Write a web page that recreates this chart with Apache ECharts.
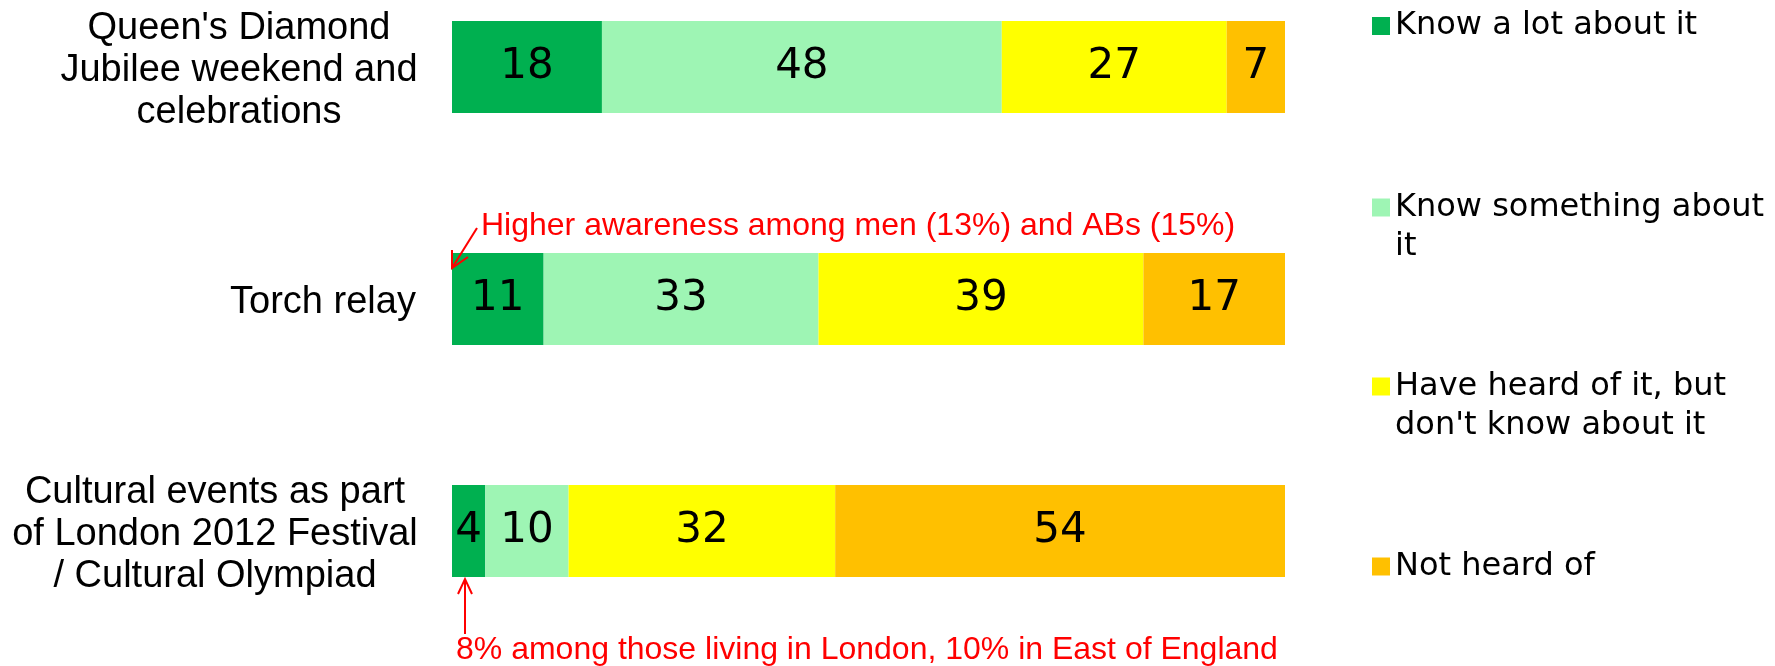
<!DOCTYPE html>
<html>
<head>
<meta charset="utf-8">
<title>Awareness of events</title>
<script src="https://cdn.jsdelivr.net/npm/echarts@6/dist/echarts.min.js"></script>
<style>
  html, body { margin: 0; padding: 0; background: #fff; }
  #chart { width: 1775px; height: 666px; }
</style>
</head>
<body>
<div id="chart"></div>
<script>
const categories = [
  "Queen's Diamond\nJubilee weekend and\ncelebrations",
  'Torch relay',
  'Cultural events as part\nof London 2012 Festival\n/ Cultural Olympiad'
]
const seriesNames = ['Know a lot about it', 'Know something about it', "Have heard of it, but don't know about it", 'Not heard of']
const legendLabels = ['Know a lot about it', 'Know something about\nit', "Have heard of it, but\ndon't know about it", 'Not heard of']

const knowLot = [18, 11, 4]
const knowSome = [48, 33, 10]
const heardOnly = [27, 39, 32]
const notHeard = [7, 17, 54]

const colors = ['#00B050', '#9EF5B4', '#FFFF00', '#FFC000']
const values = [knowLot, knowSome, heardOnly, notHeard]

// widest line of each category label, so the lines can be centred
const labelWidths = [358, 190, 406]

const chart = echarts.init(document.getElementById('chart'))

// two-line legend entries get an empty first line so the icon sits on the first text line
const legendTops = [6.5, 149, 328, 547]
const legends = seriesNames.map((name, i) => {
  const twoLines = legendLabels[i].indexOf('\n') >= 0
  return {
    data: [name],
    orient: 'vertical',
    left: 1372,
    top: legendTops[i],
    padding: 0,
    icon: 'rect',
    itemWidth: 18,
    itemHeight: 18,
    itemGap: 0,
    selectedMode: false,
    formatter: () => (twoLines ? '\n' : '') + legendLabels[i],
    textStyle: {
      fontFamily: 'DejaVu Sans',
      fontSize: 32,
      lineHeight: 39,
      color: '#000'
    }
  }
})

const red = '#FF0000'

const option = {
  animation: false,
  legend: legends,
  grid: {
    left: 452,
    right: 490,
    top: -49,
    height: 696,
    outerBoundsMode: 'none',
    containLabel: false
  },
  xAxis: {
    type: 'value',
    min: 0,
    max: 100,
    show: false
  },
  yAxis: {
    type: 'category',
    inverse: true,
    data: categories,
    axisLine: { show: false },
    axisTick: { show: false },
    axisLabel: {
      margin: 34,
      align: 'right',
      padding: [8, 0, 0, 0],
      formatter: (value, idx) => value.split('\n').map((s) => `{c${idx}|${s}}`).join('\n'),
      rich: Object.fromEntries(labelWidths.map((w, i) => [
        'c' + i,
        { width: w, align: 'center', fontFamily: 'Liberation Sans', fontSize: 38, lineHeight: 42, color: '#000' }
      ]))
    }
  },
  series: values.map((data, i) => ({
    name: seriesNames[i],
    type: 'bar',
    stack: 'total',
    barWidth: 92,
    data: data,
    itemStyle: { color: colors[i] },
    emphasis: { disabled: true },
    label: {
      show: true,
      position: 'inside',
      color: '#000',
      fontFamily: 'DejaVu Sans',
      fontSize: 42
    }
  })),
  graphic: [
    {
      type: 'text',
      left: 481,
      top: 210,
      z: 100,
      style: {
        text: 'Higher awareness among men (13%) and ABs (15%)',
        fill: red,
        font: '32px "Liberation Sans"'
      }
    },
    {
      type: 'polyline',
      z: 100,
      shape: { points: [[477, 228], [452, 268]] },
      style: { stroke: red, lineWidth: 2, fill: null }
    },
    {
      type: 'polyline',
      z: 100,
      shape: { points: [[452, 250], [452, 268], [468, 257]] },
      style: { stroke: red, lineWidth: 2, fill: null }
    },
    {
      type: 'text',
      left: 456,
      top: 634,
      z: 100,
      style: {
        text: '8% among those living in London, 10% in East of England',
        fill: red,
        font: '32px "Liberation Sans"'
      }
    },
    {
      type: 'polyline',
      z: 100,
      shape: { points: [[465, 634], [465, 579]] },
      style: { stroke: red, lineWidth: 2, fill: null }
    },
    {
      type: 'polyline',
      z: 100,
      shape: { points: [[458, 594], [465, 579], [472, 594]] },
      style: { stroke: red, lineWidth: 2, fill: null }
    }
  ]
}

chart.setOption(option)
window.addEventListener('resize', () => {
  chart.resize()
})
</script>
</body>
</html>
